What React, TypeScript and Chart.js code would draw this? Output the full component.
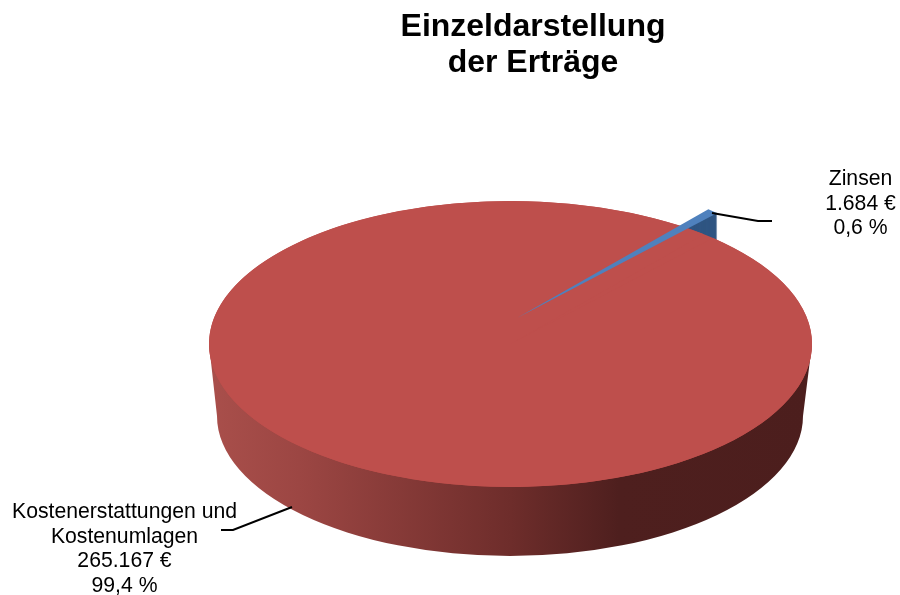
import React, { useEffect, useRef } from "react";
import { Chart, registerables } from "chart.js";

Chart.register(...registerables);

const categories = ["Zinsen", "Kostenerstattungen und Kostenumlagen"];
const amounts = [1684, 265167];
const titleLines = ["Einzeldarstellung", "der Erträge"];
const labelLines = [
  ["Zinsen", "1.684 €", "0,6 %"],
  ["Kostenerstattungen und", "Kostenumlagen", "265.167 €", "99,4 %"],
];
const topColors = ["#4F81BD", "#BE4F4C"];

const FONT = '"Liberation Sans", Arial, sans-serif';
const top3d = { cx: 510.5, cy: 344, rx: 301.5, ry: 143 };
const bottom3d = { cx: 510, cy: 416, rx: 293, ry: 140 };
const wedge3d = { ax: 517, ay: 318, k: 0.99, depth: 60 };
const labelPos = [
  { x: 860.5, y: 185, dy: 24.5 },
  { x: 124.5, y: 518, dy: 24.7 },
];
const leaders = [
  [[712, 213], [758, 221], [772, 221]],
  [[292, 507], [233, 530], [221, 530]],
];

const pie3d = {
  id: "pie3d",
  beforeDatasetsDraw(chart: any) {
    const ctx = chart.ctx;
    const [blue, red] = chart.getDatasetMeta(0).data as any[];
    const { x, y, outerRadius: r } = red.getProps(["x", "y", "outerRadius"], true);

    const toTop = () => {
      ctx.translate(top3d.cx, top3d.cy);
      ctx.scale(top3d.rx / r, top3d.ry / r);
      ctx.translate(-x, -y);
    };
    const toWedge = (dy: number) => {
      ctx.translate(wedge3d.ax, wedge3d.ay + dy);
      ctx.scale((top3d.rx * wedge3d.k) / r, (top3d.ry * wedge3d.k) / r);
      ctx.translate(-x, -y);
    };

    // blue slice's side wall, extruded downward behind the red top
    const b = blue.getProps(["startAngle", "endAngle"], true);
    ctx.save();
    ctx.fillStyle = "#2F5582";
    for (let dy = 1; dy <= wedge3d.depth; dy++) {
      ctx.save();
      toWedge(dy);
      ctx.beginPath();
      ctx.moveTo(x, y);
      ctx.arc(x, y, r, b.startAngle, b.endAngle);
      ctx.closePath();
      ctx.restore();
      ctx.fill();
    }
    ctx.restore();

    // red side wall
    const grad = ctx.createLinearGradient(top3d.cx - top3d.rx, 0, top3d.cx + top3d.rx, 0);
    grad.addColorStop(0, "#A94F4B");
    grad.addColorStop(0.15, "#9C4643");
    grad.addColorStop(0.5, "#6E2D2B");
    grad.addColorStop(0.68, "#4E1F1E");
    grad.addColorStop(1, "#4C1E1D");
    ctx.save();
    ctx.fillStyle = grad;
    ctx.beginPath();
    ctx.moveTo(top3d.cx - top3d.rx, top3d.cy);
    ctx.lineTo(bottom3d.cx - bottom3d.rx, bottom3d.cy);
    ctx.ellipse(bottom3d.cx, bottom3d.cy, bottom3d.rx, bottom3d.ry, 0, Math.PI, 0, true);
    ctx.lineTo(top3d.cx + top3d.rx, top3d.cy);
    ctx.closePath();
    ctx.fill();

    // full top ellipse under the red slice, so the exploded slice leaves no gap
    ctx.fillStyle = topColors[1];
    ctx.beginPath();
    ctx.ellipse(top3d.cx, top3d.cy, top3d.rx, top3d.ry, 0, 0, Math.PI * 2);
    ctx.fill();
    ctx.restore();

    ctx.save();
    toTop();
    red.draw(ctx);
    ctx.restore();

    ctx.save();
    toWedge(0);
    blue.draw(ctx);
    ctx.restore();

    return false;
  },
  afterDraw(chart: any) {
    const ctx = chart.ctx;
    ctx.save();
    ctx.strokeStyle = "#000000";
    ctx.lineWidth = 2;
    leaders.forEach((pts) => {
      ctx.beginPath();
      pts.forEach(([px, py], i) => (i ? ctx.lineTo(px, py) : ctx.moveTo(px, py)));
      ctx.stroke();
    });
    ctx.fillStyle = "#000000";
    ctx.font = `21.2px ${FONT}`;
    ctx.textAlign = "center";
    ctx.textBaseline = "alphabetic";
    labelLines.forEach((lines, i) => {
      lines.forEach((t, j) => ctx.fillText(t, labelPos[i].x, labelPos[i].y + j * labelPos[i].dy));
    });
    ctx.restore();
  },
};

export default function App() {
  const ref = useRef<HTMLCanvasElement | null>(null);
  useEffect(() => {
    const chart = new Chart(ref.current as HTMLCanvasElement, {
      type: "pie",
      data: {
        labels: categories,
        datasets: [{ data: amounts, backgroundColor: topColors, borderWidth: 0 }],
      },
      options: {
        responsive: false,
        animation: false,
        rotation: 39.87,
        layout: { padding: { left: 166, top: 5 } },
        plugins: {
          legend: { display: false },
          tooltip: { enabled: false },
          title: {
            display: true,
            text: titleLines,
            color: "#000000",
            font: { family: FONT, size: 32, weight: "bold", lineHeight: 1.125 },
            padding: { top: 4, bottom: 10 },
          },
        },
      },
      plugins: [pie3d],
    } as any);
    return () => chart.destroy();
  }, []);
  return (
    <div style={{ position: "absolute", left: 0, top: 0, width: 900, height: 595 }}>
      <canvas ref={ref} width={900} height={595} style={{ display: "block" }} />
    </div>
  );
}
